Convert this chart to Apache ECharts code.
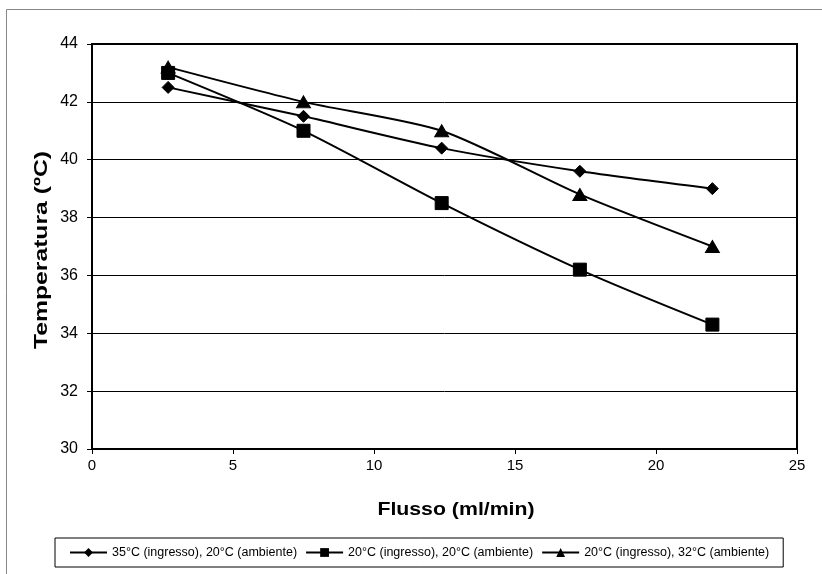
<!DOCTYPE html>
<html><head><meta charset="utf-8">
<script src="https://cdn.jsdelivr.net/npm/echarts@6/dist/echarts.min.js"></script>
<style>html,body{margin:0;padding:0;background:#fff}#c{width:822px;height:574px}</style>
</head><body><div id="c"></div>
<script>
const flow = [2.7, 7.5, 12.4, 17.3, 22];
const seriesNames = ['35°C (ingresso), 20°C (ambiente)', '20°C (ingresso), 20°C (ambiente)', '20°C (ingresso), 32°C (ambiente)'];
const s35_20 = [42.5, 41.5, 40.4, 39.6, 39.0];
const s20_20 = [43.0, 41.0, 38.5, 36.2, 34.3];
const s20_32 = [43.2, 42.0, 41.0, 38.8, 37.0];
const xTitle = 'Flusso (ml/min)';
const yTitle = 'Temperatura (ºC)';
const symbols = ['diamond', 'rect', 'triangle'];
const symbolSizes = [[12, 12], 13, [14, 12]];
const allValues = [s35_20, s20_20, s20_32];

const chart = echarts.init(document.getElementById('c'), null, {renderer: 'canvas'});
const font = 'Liberation Sans, Arial, sans-serif';
chart.setOption({
  backgroundColor: '#fff',
  animation: false,
  graphic: [
    {type: 'rect', shape: {x: 6.5, y: 9.5, width: 900, height: 700}, style: {fill: 'none', stroke: '#888', lineWidth: 1}, silent: true},
    {type: 'text', x: 42, y: 250, rotation: Math.PI / 2, scaleX: 1.3, silent: true,
     style: {text: yTitle, font: 'bold 19px Liberation Sans, Arial, sans-serif', align: 'center', verticalAlign: 'middle', fill: '#000'}},
    {type: 'text', x: 456, y: 510, scaleX: 1.12, silent: true,
     style: {text: xTitle, font: 'bold 19px Liberation Sans, Arial, sans-serif', align: 'center', verticalAlign: 'middle', fill: '#000'}}
  ],
  grid: {left: 92, right: 25, top: 44, bottom: 125, show: true, borderColor: '#000', borderWidth: 2, backgroundColor: 'transparent'},
  legend: {
    top: 538, left: 55, itemGap: 8, itemWidth: 37, itemHeight: 11,
    padding: [8, 14], borderColor: '#000', borderWidth: 1,
    lineStyle: {width: 2},
    textStyle: {fontFamily: font, fontSize: 12.5, color: '#000'},
    data: seriesNames
  },
  xAxis: {
    type: 'value', min: 0, max: 25, interval: 5,
    axisLine: {show: true, lineStyle: {color: '#000', width: 1}},
    axisTick: {show: true, length: 5, lineStyle: {color: '#000'}},
    axisLabel: {fontFamily: font, fontSize: 15, color: '#000', margin: 9},
    splitLine: {show: false}
  },
  yAxis: {
    type: 'value', min: 30, max: 44, interval: 2,
    axisLine: {show: true, lineStyle: {color: '#000', width: 1}},
    axisTick: {show: true, length: 5, lineStyle: {color: '#000'}},
    axisLabel: {fontFamily: font, fontSize: 16, color: '#000', margin: 14},
    splitLine: {show: true, lineStyle: {color: '#000', width: 1}}
  },
  series: allValues.map((vals, i) => ({
    name: seriesNames[i], type: 'line',
    data: flow.map((x, j) => [x, vals[j]]),
    symbol: symbols[i], symbolSize: symbolSizes[i], showSymbol: true,
    smooth: 0.25,
    lineStyle: {color: '#000', width: 2},
    itemStyle: {color: '#000', borderColor: '#000'},
    z: 3
  }))
});
</script></body></html>
